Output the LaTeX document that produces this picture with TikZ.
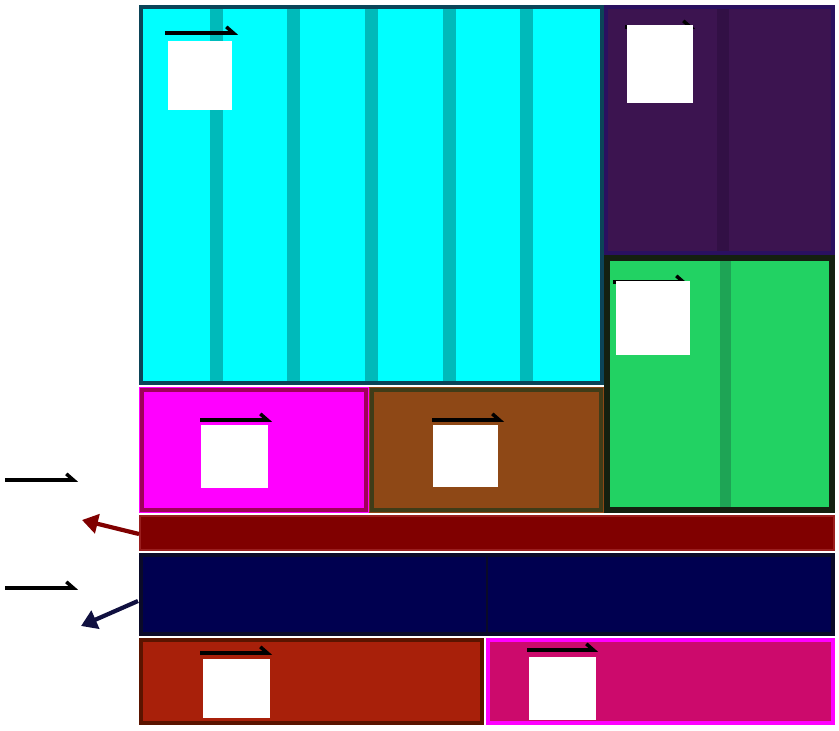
\documentclass[tikz,border=0pt]{standalone}
\usetikzlibrary{arrows.meta}

\definecolor{cyanfill}{HTML}{00FFFF}
\definecolor{cyanstripe}{HTML}{00BABA}
\definecolor{cyanborder}{HTML}{0B4458}
\definecolor{purplefill}{HTML}{3C1450}
\definecolor{purplestripe}{HTML}{321045}
\definecolor{purpleborder}{HTML}{2A1060}
\definecolor{greenfill}{HTML}{22D263}
\definecolor{greenstripe}{HTML}{1EA455}
\definecolor{greenborder}{HTML}{142010}
\definecolor{magentafill}{HTML}{FF00FF}
\definecolor{magentaborder}{HTML}{A0005A}
\definecolor{brownfill}{HTML}{8E4816}
\definecolor{brownborder}{HTML}{403C18}
\definecolor{redbarfill}{HTML}{800000}
\definecolor{redbarborder}{HTML}{9A1E1E}
\definecolor{navyfill}{HTML}{000050}
\definecolor{navyborder}{HTML}{0A0A28}
\definecolor{navyarrow}{HTML}{101040}
\definecolor{rustfill}{HTML}{A8200A}
\definecolor{rustborder}{HTML}{5A1400}
\definecolor{pinkfill}{HTML}{CC0A6C}
\definecolor{pinkborder}{HTML}{FF00FF}

\tikzset{
    vecarrow/.style={line width=2pt, -{Straight Barb[left, length=4pt, width=7pt]}},
    blockarrow/.style={line width=2.4pt, -{Triangle[length=9pt, width=11pt]}}
}

\begin{document}
\begin{tikzpicture}[x=0.2cm, y=-0.2cm]
            \useasboundingbox (0, 0) rectangle (83.9, 73.1);

            % cyan block
            \fill[cyanfill] (13.9, 0.5) rectangle (60.4, 38.5);
            \fill[cyanstripe] (21.0, 0.8) rectangle ++(1.3, 37.5);
            \fill[cyanstripe] (28.7, 0.8) rectangle ++(1.3, 37.5);
            \fill[cyanstripe] (36.5, 0.8) rectangle ++(1.3, 37.5);
            \fill[cyanstripe] (44.3, 0.8) rectangle ++(1.3, 37.5);
            \fill[cyanstripe] (52.0, 0.8) rectangle ++(1.3, 37.5);
            \draw[cyanborder, line width=2.6pt] (14.1, 0.7) rectangle (60.2, 38.3);

            % purple and green blocks
            \fill[purplefill] (60.4, 0.5) rectangle (83.5, 25.5);
            \fill[purplestripe] (71.7, 0.8) rectangle ++(1.2, 24.5);
            \draw[purpleborder, line width=2pt] (60.6, 0.7) rectangle (83.3, 25.3);
            \fill[greenfill] (60.4, 25.5) rectangle (83.5, 51.3);
            \fill[greenstripe] (72.0, 26.0) rectangle ++(1.1, 25.0);
            \draw[greenborder, line width=3pt] (60.7, 25.8) rectangle (83.2, 51.0);

            % magenta and brown blocks
            \fill[magentafill] (13.9, 38.7) rectangle (36.9, 51.3);
            \draw[magentaborder, line width=2.8pt] (14.2, 39.0) rectangle (36.6, 51.0);
            \fill[brownfill] (36.9, 38.7) rectangle (60.4, 51.3);
            \draw[brownborder, line width=2.8pt] (37.2, 39.0) rectangle (60.1, 51.0);

            % red bar and navy block
            \fill[redbarfill] (13.9, 51.5) rectangle (83.5, 55.1);
            \draw[redbarborder, line width=1.2pt] (14.0, 51.6) rectangle (83.4, 55.0);
            \fill[navyfill] (13.9, 55.3) rectangle (83.5, 63.6);
            \draw[navyborder, line width=2pt] (14.1, 55.5) rectangle (83.3, 63.4);
            \draw[navyborder, line width=1.6pt] (48.7, 55.5) -- (48.7, 63.4);

            % bottom blocks
            \fill[rustfill] (13.9, 63.8) rectangle (48.4, 72.5);
            \draw[rustborder, line width=2.6pt] (14.1, 64.0) rectangle (48.2, 72.3);
            \fill[pinkfill] (48.6, 63.8) rectangle (83.5, 72.5);
            \draw[pinkborder, line width=2.6pt] (48.8, 64.0) rectangle (83.3, 72.3);

            % label arrows and boxes
            \draw[vecarrow] (16.5, 3.3) -- (23.8, 3.3);
            \fill[white] (16.8, 4.1) rectangle (23.2, 11.0);
            \draw[vecarrow] (62.5, 2.7) -- (69.5, 2.7);
            \fill[white] (62.7, 2.5) rectangle (69.3, 10.3);
            \draw[vecarrow] (61.3, 28.2) -- (68.8, 28.2);
            \fill[white] (61.6, 28.1) rectangle (69.0, 35.5);
            \draw[vecarrow] (20.0, 42.0) -- (27.2, 42.0);
            \fill[white] (20.1, 42.5) rectangle (26.8, 48.8);
            \draw[vecarrow] (43.2, 42.0) -- (50.4, 42.0);
            \fill[white] (43.3, 42.5) rectangle (49.8, 48.7);
            \draw[vecarrow] (20.0, 65.3) -- (27.2, 65.3);
            \fill[white] (20.3, 65.9) rectangle (27.0, 71.8);
            \draw[vecarrow] (52.7, 65.0) -- (59.8, 65.0);
            \fill[white] (52.9, 65.7) rectangle (59.6, 72.0);

            % left side arrows
            \draw[vecarrow] (0.5, 48.0) -- (7.8, 48.0);
            \draw[vecarrow] (0.5, 58.8) -- (7.8, 58.8);
            \coordinate (redtail) at (13.9, 53.4);
            \coordinate (redhead) at (8.2, 52.0);
            \draw[blockarrow, redbarfill] (redtail) -- (redhead);
            \coordinate (navytail) at (13.8, 60.1);
            \coordinate (navyhead) at (8.1, 62.6);
            \draw[blockarrow, navyarrow] (navytail) -- (navyhead);
        \end{tikzpicture}
\end{document}
